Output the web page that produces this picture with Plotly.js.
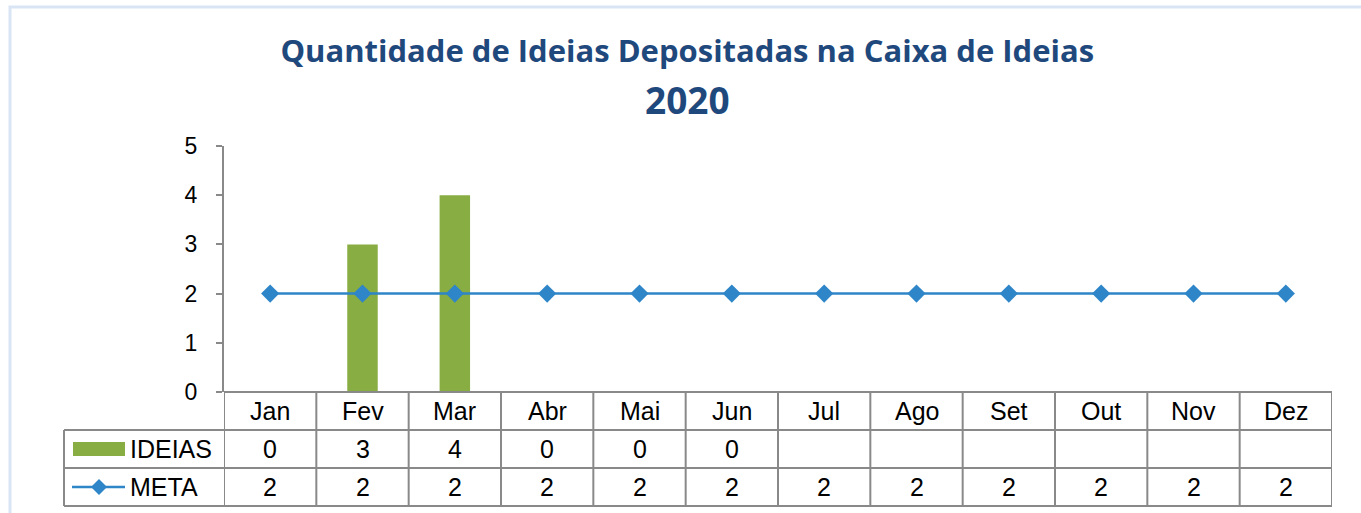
<!DOCTYPE html>
<html>
<head>
<meta charset="utf-8">
<script src="https://cdn.plot.ly/plotly-3.0.1.min.js"></script>
<style>html,body{margin:0;padding:0;background:#fff;}#chart{width:1361px;height:513px;}</style>
</head>
<body>
<div id="chart"></div>
<script>
const months = ['Jan','Fev','Mar','Abr','Mai','Jun','Jul','Ago','Set','Out','Nov','Dez'];
const ideias = [0,3,4,0,0,0,null,null,null,null,null,null];
const meta = [2,2,2,2,2,2,2,2,2,2,2,2];
const seriesNames = ['IDEIAS','META'];
const chartTitle = 'Quantidade de Ideias Depositadas na Caixa de Ideias';
const chartYear = '2020';

const W = 1361, H = 513;
const mL = 224, mR = 29, mT = 146, mB = 121;
const plotW = W - mL - mR, plotH = H - mT - mB;
const rowH = 38;
const py = px => (H - mB - px) / plotH;       // pixel y -> paper
const pyRow = k => -(k * rowH) / plotH;        // k rows below x axis
const pxX = px => (px - mL) / plotW;           // pixel x -> paper

const gray = '#898989';
const green = '#88AD42';
const blue = '#2E86C8';

const traces = [
  {type:'bar', x: months, y: ideias, name: seriesNames[0], width: 0.33,
   marker:{color: green}, hoverinfo:'x+y'},
  {type:'scatter', mode:'lines+markers', x: months, y: meta, name: seriesNames[1],
   line:{color: blue, width: 2.5}, marker:{symbol:'diamond', size: 14, color: blue}}
];

const shapes = [];
const annotations = [];
const n = months.length;
shapes.push({type:'line', xref:'x', yref:'paper', x0:-0.5, x1:n-0.5, y0:0, y1:0, line:{color:gray, width:2}});
for (let k = 1; k <= 3; k++) {
  shapes.push({type:'line', xref:'paper', yref:'paper', x0:pxX(64), x1:1, y0:pyRow(k), y1:pyRow(k), line:{color:gray, width:2}});
}
for (let i = 0; i <= n; i++) {
  shapes.push({type:'line', xref:'x', yref:'paper', x0:i-0.5, x1:i-0.5, y0:0, y1:pyRow(3), line:{color:gray, width:2}});
}
shapes.push({type:'line', xref:'paper', yref:'paper', x0:pxX(64), x1:pxX(64), y0:pyRow(1), y1:pyRow(3), line:{color:gray, width:2}});
// legend keys
shapes.push({type:'rect', xref:'paper', yref:'paper', x0:pxX(73), x1:pxX(125), y0:pyRow(1.5)-7/plotH, y1:pyRow(1.5)+7/plotH, line:{width:0}, fillcolor:green});
shapes.push({type:'line', xref:'paper', yref:'paper', x0:pxX(72), x1:pxX(125), y0:pyRow(2.5), y1:pyRow(2.5), line:{color:blue, width:2.5}});
{
  const cx = 99, cy = 392 + 2.5*rowH, r = 8;
  const toPx = (x,y) => `${pxX(x)},${py(y)}`;
  shapes.push({type:'path', xref:'paper', yref:'paper',
    path:`M ${toPx(cx-r,cy)} L ${toPx(cx,cy-r)} L ${toPx(cx+r,cy)} L ${toPx(cx,cy+r)} Z`,
    fillcolor:blue, line:{width:0}});
}
// outer chart border
shapes.push({type:'rect', xref:'paper', yref:'paper', x0:pxX(10), x1:pxX(1370), y0:py(7), y1:py(530),
  line:{color:'#D9E5F4', width:3}, fillcolor:'rgba(0,0,0,0)', layer:'below'});

const tf = {family:'Liberation Sans, Arial, sans-serif', size:25, color:'#000'};
months.forEach((m, i) => {
  annotations.push({xref:'x', yref:'paper', x:i, y:pyRow(0.5), text:m, showarrow:false, font:tf, yanchor:'middle'});
  if (ideias[i] !== null) annotations.push({xref:'x', yref:'paper', x:i, y:pyRow(1.5), text:String(ideias[i]), showarrow:false, font:tf, yanchor:'middle'});
  if (meta[i] !== null) annotations.push({xref:'x', yref:'paper', x:i, y:pyRow(2.5), text:String(meta[i]), showarrow:false, font:tf, yanchor:'middle'});
});
annotations.push({xref:'paper', yref:'paper', x:pxX(128), y:pyRow(1.5), text:seriesNames[0], showarrow:false, font:tf, xanchor:'left', yanchor:'middle'});
annotations.push({xref:'paper', yref:'paper', x:pxX(128), y:pyRow(2.5), text:seriesNames[1], showarrow:false, font:tf, xanchor:'left', yanchor:'middle'});

const layout = {
  width: W, height: H,
  margin:{l:mL, r:mR, t:mT, b:mB, pad:0},
  paper_bgcolor:'#fff', plot_bgcolor:'#fff',
  showlegend:false,
  title:{text: '<span style="font-size:31px">' + chartTitle + '</span><br><span style="font-size:37px">' + chartYear + '</span>',
    x:0.505, xanchor:'center', y:1 - 62/H, yanchor:'top', yref:'container',
    font:{family:'Open Sans, Noto Sans, sans-serif', size:40, color:'#1F497D', weight:'bold'}},
  xaxis:{type:'category', range:[-0.5, n-0.5], showticklabels:false, ticks:'', showline:false, showgrid:false, zeroline:false, fixedrange:true},
  yaxis:{range:[0,5], dtick:1, showgrid:false, zeroline:false, showline:true, linecolor:gray, linewidth:2,
    ticks:'outside', ticklen:6, tickwidth:2, tickcolor:gray, ticklabelstandoff:14,
    tickfont:{family:'Liberation Sans, Arial, sans-serif', size:23, color:'#000'}, fixedrange:true},
  shapes: shapes,
  annotations: annotations
};

Plotly.newPlot('chart', traces, layout, {displayModeBar:false, staticPlot:true});
</script>
</body>
</html>
